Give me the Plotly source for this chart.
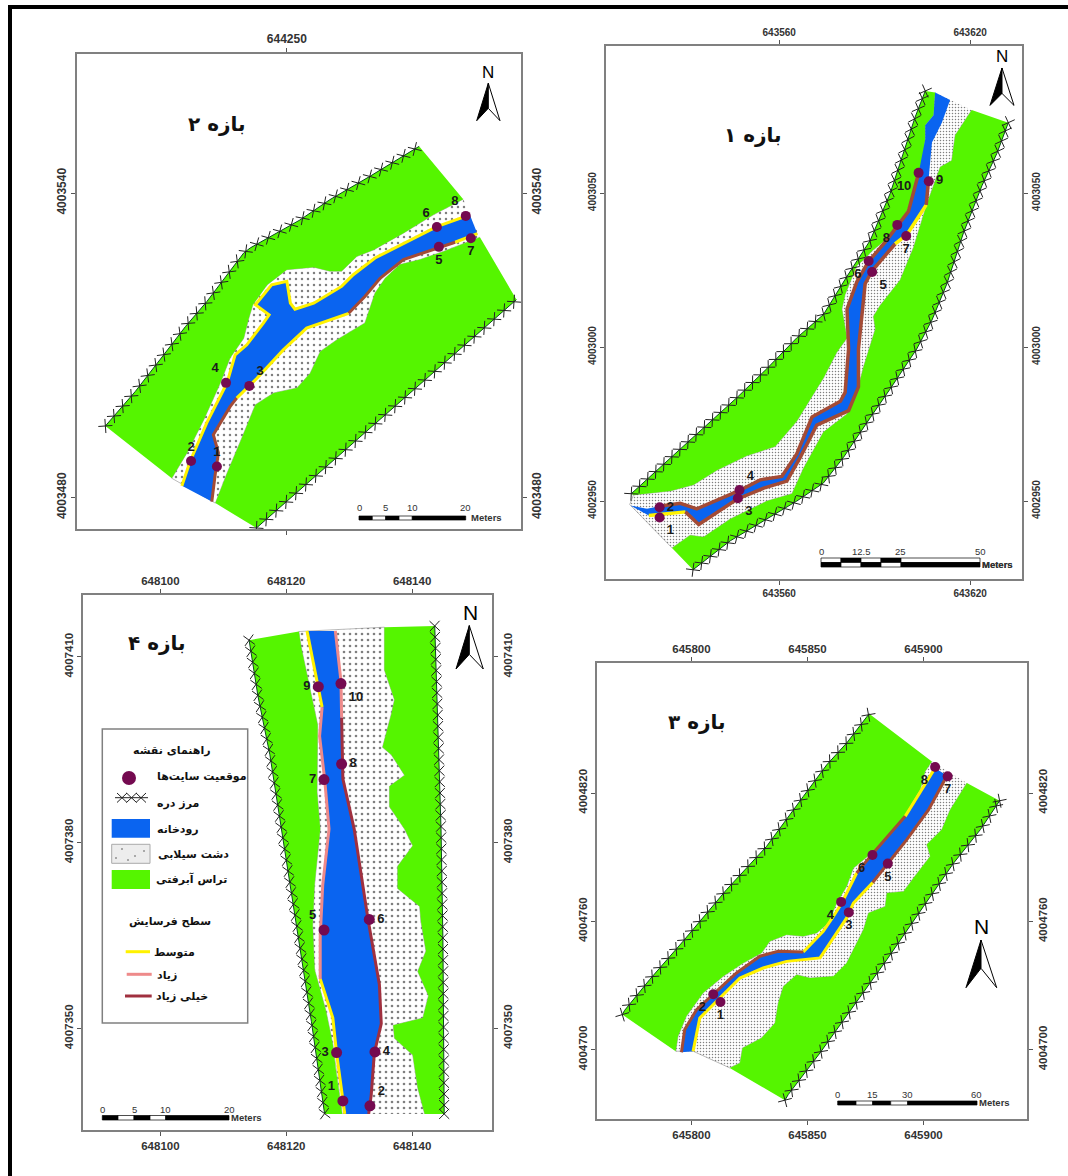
import numpy as np
import plotly.graph_objects as go

W, H = 1068, 1176

# ---------------- DATA: offsets in metres from each reach's reference grid tick ----------------
# Reach 2
P2_E0, P2_N0 = 644250, 4003540
P2_X_TICKS = [644250]
P2_Y_TICKS = [4003540, 4003480]
P2_VALLEY_NW = [(-35.8,-45.9),(-29.9,-39.1),(-24.3,-31.9),(-20.0,-26.3),(-15.8,-21.4),(-11.8,-16.1),(-8.5,-11.8),(-7.2,-10.8),(2.6,-5.3),(8.5,-1.3),(16.4,3.3),(26.1,9.2)]
P2_VALLEY_SE = [(-6.0,-66.0),(45.3,-21.0)]
P2_PLAIN_N = [(34.8,-1.2),(28.9,-4.3),(23.0,-7.9),(17.1,-11.2),(13.8,-12.5),(10.8,-15.4),(8.5,-15.4),(5.3,-14.6),(0,-15.1),(-3.9,-18.1),(-6.7,-22.0),(-7.6,-25.0),(-8.5,-28.6),(-11.2,-32.5),(-13.1,-37.4),(-16.4,-44.7),(-19.7,-51.2),(-22.7,-56.2)]
P2_PLAIN_S = [(-14.1,-61.1),(-11.8,-55.2),(-8.9,-48.3),(-6.2,-41.7),(-2.6,-39.4),(2.0,-38.4),(4.6,-35.5),(6.6,-31.2),(9.9,-28.9),(15.4,-25.6),(17.4,-19.7),(19.4,-16.8),(22.3,-14.1),(26.3,-13.1),(30.9,-11.5),(38.1,-8.7)]
P2_BANK_L = [(-20.7,-57.7),(-19.1,-52.9),(-15.8,-45.3),(-11.8,-37.4),(-10.2,-31.9),(-7.9,-29.9),(-4.6,-25.6),(-3.5,-24.0),(-6.2,-22.0),(-3.0,-18.1),(0,-17.4),(0.7,-21.7),(1.6,-22.9),(5.3,-21.7),(10.8,-18.4),(13.1,-16.1),(17.4,-12.8),(23.0,-9.9),(29.6,-6.6),(36.1,-4.3)]
P2_BANK_R = [(37.6,-8.0),(33.2,-9.7),(29.9,-10.8),(23.0,-13.1),(18.4,-16.8),(15.4,-20.4),(12.2,-23.7),(3.9,-26.6),(-0.7,-30.9),(-5.9,-36.5),(-9.9,-40.4),(-11.2,-42.1),(-14.5,-47.6),(-13.5,-51.2),(-14.1,-55.2),(-14.8,-60.8)]
P2_SITES = [(-13.8,-53.9),(-18.9,-52.8),(-7.4,-38.0),(-12.0,-37.4),(30.0,-10.6),(29.6,-6.7),(36.3,-8.9),(35.3,-4.5)]
P2_SITE_NAMES = ["1","2","3","4","5","6","7","8"]

# Reach 1
P1_E0, P1_N0 = 643560, 4003050
P1_X_TICKS = [643560, 643620]
P1_Y_TICKS = [4003050, 4003000, 4002950]
P1_VALLEY_NW = [(-46.5,-97.6),(-39.5,-91.1),(-29.0,-81.1),(-13.3,-66.4),(-3.9,-57.0),(5.5,-47.0),(13.9,-39.4),(21.3,-27.0),(28.6,-15.3),(34.9,0),(39.1,12.9),(42.7,24.7),(45.9,33.2)]
P1_VALLEY_SE = [(-27.1,-122.3),(-15.4,-112.9),(-3.9,-105.8),(5.5,-100.0),(13.9,-94.1),(20.2,-85.8),(28.6,-72.9),(34.9,-63.5),(43.2,-50.6),(48.0,-41.2),(52.7,-29.4),(57.9,-12.9),(63.7,2.4),(68.4,12.9),(72.0,22.9)]
P1_PLAIN_N = [(49.0,32.7),(48.5,25.3),(45.9,22.1),(45.9,17.6),(44.8,9.4),(43.8,6.5),(42.2,0),(40.1,-5.9),(37.0,-10.6),(33.3,-15.3),(29.1,-18.8),(27.0,-21.2),(24.4,-23.5),(20.7,-32.9),(19.7,-37.6),(21.3,-47.0),(18.1,-51.7),(13.9,-60.0),(9.7,-67.0),(5.5,-74.1),(-1.3,-82.3),(-10.2,-85.3),(-19.6,-90.0),(-26.9,-94.7),(-34.2,-96.7),(-45.8,-98.0)]
P1_PLAIN_S = [(-47.0,-101.1),(-33.7,-115.2),(-28.0,-111.1),(-23.8,-111.7),(-15.4,-105.8),(-3.9,-100.0),(4.0,-97.6),(7.6,-89.4),(13.9,-77.6),(21.3,-71.7),(24.4,-64.7),(26.5,-56.4),(30.2,-44.1),(29.6,-40.0),(31.7,-36.5),(38.0,-28.2),(42.2,-17.6),(46.4,-3.5),(50.6,8.5),(54.2,10.6),(55.3,18.8),(60.5,27.0)]
P1_BANK_L = [(-46.8,-101.4),(-41.6,-102.5),(-37.6,-101.7),(-31.1,-100.7),(-25.9,-102.5),(-12.8,-96.7),(-6.0,-93.1),(0.8,-92.0),(5.5,-84.7),(10.3,-72.7),(19.2,-67.6),(20.7,-64.7),(21.8,-50.6),(21.3,-37.6),(24.4,-28.8),(28.1,-22.1),(33.3,-15.9),(37.0,-10.6),(40.6,-5.9),(43.8,6.5),(45.9,17.6),(45.9,22.1),(48.5,25.3),(49.0,32.7)]
P1_BANK_R = [(53.7,30.3),(51.1,22.9),(48.0,16.5),(46.9,4.1),(46.2,-3.8),(40.1,-13.5),(36.4,-16.5),(29.1,-25.3),(27.0,-29.4),(26.0,-40.0),(24.9,-50.6),(24.9,-62.9),(21.8,-70.6),(11.8,-75.3),(6.6,-85.8),(2.4,-93.5),(-4.9,-95.8),(-13.3,-99.4),(-25.3,-107.6),(-29.5,-103.5),(-41.0,-104.7)]
P1_SITES = [(-37.6,-105.3),(-37.6,-102.0),(-13.0,-99.1),(-12.5,-96.4),(29.2,-25.6),(28.1,-22.0),(39.9,-13.9),(37.1,-10.3),(47.0,3.9),(43.8,6.6)]
P1_SITE_NAMES = ["1","2","3","4","5","6","7","8","9","10"]

# Reach 4
P4_E0, P4_N0 = 648120, 4007380
P4_X_TICKS = [648100, 648120, 648140]
P4_Y_TICKS = [4007410, 4007380, 4007350]
P4_VALLEY_W = [(-5.9,32.7),(-4.5,23.7),(-2.6,14.2),(-0.5,0.4),(1.6,-12.7),(4.0,-28.9),(6.1,-43.8)]
P4_VALLEY_E = [(23.6,35.0),(24.1,20.2),(24.6,2.2),(24.9,-15.7),(25.1,-43.8)]
P4_PLAIN_W = [(8.9,-43.8),(7.9,-36.7),(7.4,-32.5),(6.3,-27.1),(4.5,-20.5),(4.2,-13.3),(4.5,-6.8),(5.4,2.2),(4.9,8.2),(5.0,19.0),(4.0,23.7),(2.4,31.5),(2.0,34.1)]
P4_PLAIN_E = [(22.0,-43.8),(20.9,-39.6),(20.1,-34.3),(17.2,-31.6),(17.0,-29.5),(21.7,-28.3),(22.6,-24.7),(20.9,-20.8),(22.2,-17.5),(21.4,-12.7),(21.2,-10.3),(17.7,-7.4),(17.7,-3.8),(20.1,-0.5),(18.8,2.2),(16.4,5.8),(16.4,9.1),(18.8,10.9),(16.7,14.2),(15.3,15.4),(16.7,20.8),(17.2,23.1),(15.6,27.9),(15.6,34.8)]
P4_BANK_L = [(3.3,34.2),(5.0,25.5),(5.7,21.9),(5.3,17.2),(6.1,10.3),(6.8,2.2),(5.8,-6.8),(5.4,-15.1),(5.4,-22.0),(7.4,-28.3),(8.0,-34.0),(9.3,-43.8)]
P4_BANK_R = [(13.1,-43.8),(13.5,-40.8),(14.0,-34.0),(15.1,-29.2),(14.8,-22.9),(13.0,-12.4),(10.8,2.2),(9.0,10.3),(8.8,20.2),(8.7,26.1),(7.8,34.2)]
P4_SITES = [(9.0,-41.7),(13.3,-42.5),(8.0,-33.9),(14.1,-33.8),(6.0,-14.1),(13.2,-12.4),(6.0,10.2),(8.8,12.7),(5.1,25.2),(8.7,25.7)]
P4_SITE_NAMES = ["1","2","3","4","5","6","7","8","9","10"]

# Reach 3
P3_E0, P3_N0 = 645800, 4004820
P3_X_TICKS = [645800, 645850, 645900]
P3_Y_TICKS = [4004820, 4004760, 4004700]
P3_VALLEY_NW = [(-29.8,-103.6),(-28.8,-101.6),(-18.0,-87.2),(-3.6,-69.3),(15.1,-45.2),(32.4,-24.9),(48.2,-1.6),(58.3,13.2),(66.9,23.4),(74.8,34.3),(76.6,37.1)]
P3_VALLEY_SE = [(40.3,-143.6),(41.7,-141.0),(55.4,-121.5),(69.8,-99.7),(84.2,-77.9),(100.0,-53.0),(113.0,-32.7),(124.5,-17.1),(132.8,-3.6)]
P3_PLAIN_N = [(103.6,14.8),(100.7,10.1),(98.6,1.6),(92.1,-10.1),(85.6,-19.5),(77.7,-28.0),(69.8,-35.1),(66.9,-43.6),(62.6,-51.4),(59.0,-60.8),(54.0,-65.4),(48.2,-67.0),(41.0,-66.2),(33.8,-69.3),(30.2,-74.8),(22.3,-79.5),(13.7,-85.7),(5.0,-93.5),(-2.2,-104.4),(-5.8,-113.7),(-6.8,-120.7)]
P3_PLAIN_MOUTH = [(0.7,-120.7)]
P3_PLAIN_S = [(16.5,-128.5),(20.9,-126.2),(22.0,-119.2),(30.2,-114.5),(36.0,-107.5),(37.4,-98.2),(39.6,-90.4),(45.3,-84.9),(51.1,-86.5),(61.2,-85.7),(66.9,-79.5),(70.5,-71.7),(74.1,-63.9),(76.3,-56.1),(83.5,-53.0),(84.2,-46.7),(91.4,-46.0),(95.7,-39.7),(102.9,-29.6),(101.4,-24.1),(107.9,-17.1),(111.5,-7.8),(118.7,4.7)]
P3_BANK_L = [(-4.3,-121.2),(-2.9,-110.6),(2.2,-101.3),(9.4,-94.3),(19.4,-84.1),(29.5,-76.3),(37.4,-74.0),(48.2,-74.3),(56.8,-64.7),(61.2,-57.6),(64.8,-51.4),(71.2,-37.4),(77.7,-28.8),(92.1,-10.9),(105.0,11.7)]
P3_BANK_R = [(110.1,8.1),(102.2,-7.8),(92.8,-21.8),(84.2,-33.5),(78.1,-41.8),(69.8,-51.4),(66.9,-58.4),(55.4,-77.1),(41.0,-78.7),(30.9,-81.8),(20.9,-86.5),(10.8,-97.4),(3.6,-105.2),(0.7,-120.7)]
P3_SITES = [(12.5,-97.7),(9.4,-94.1),(67.8,-55.8),(64.5,-50.9),(84.6,-33.0),(78.0,-29.0),(110.4,7.8),(105.0,12.2)]
P3_SITE_NAMES = ["1","2","3","4","5","6","7","8"]

LEGEND_ITEMS = ["موقعیت سایت‌ها", "مرز دره", "رودخانه", "دشت سیلابی", "تراس آبرفتی"]
EROSION_LEVELS = ["متوسط", "زیاد", "خیلی زیاد"]

# ---------------- STYLE ----------------
GREEN = "#55F500"; BLUE = "#0A64F0"; YELLOW = "#FFF200"; BROWN = "#A34B36"; PINK = "#EE8A8A"; DARK = "#A0303F"
SITE = "#740A50"; FRAME = "#808080"
SANS = "Liberation Sans"; AR = "DejaVu Sans"

fig = go.Figure()
shapes, notes = [], []
px_x = lambda x: x / W
px_y = lambda y: 1 - y / H

def text(x, y, s, size=11, bold=True, color="#111", font=AR):
    notes.append(dict(x=px_x(x), y=px_y(y), xref="paper", yref="paper", text=s, showarrow=False,
                      xanchor="center", yanchor="middle",
                      font=dict(size=size, color=color, family=font, weight="bold" if bold else "normal")))

def rect(x0, y0, x1, y1, fill, line=None, lw=1, layer="above"):
    shapes.append(dict(type="rect", xref="paper", yref="paper", x0=px_x(x0), x1=px_x(x1), y0=px_y(y0), y1=px_y(y1),
                       fillcolor=fill, line=dict(color=line or fill, width=lw if line else 0), layer=layer))

def seg(x0, y0, x1, y1, color, lw):
    shapes.append(dict(type="line", xref="paper", yref="paper", x0=px_x(x0), x1=px_x(x1), y0=px_y(y0), y1=px_y(y1),
                       line=dict(color=color, width=lw), layer="above"))

def path(points, fill, line="black", lw=1):
    d = "M " + " L ".join(f"{px_x(a):.5f},{px_y(b):.5f}" for a, b in points) + " Z"
    shapes.append(dict(type="path", xref="paper", yref="paper", path=d, fillcolor=fill, line=dict(color=line, width=lw), layer="above"))

def along(pts, step, sx, sy):
    """Positions and screen bearing of the repeating cross glyph of the valley-boundary line symbol."""
    a = np.array(pts, float)
    dv = np.diff(a, axis=0)
    d = np.r_[0, np.cumsum(np.hypot(dv[:, 0], dv[:, 1]))]
    s = np.arange(0, d[-1] + step * 0.5, step)
    idx = np.clip(np.searchsorted(d, s, side="right") - 1, 0, len(dv) - 1)
    ang = np.degrees(np.arctan2(-dv[idx, 1] * sy, dv[idx, 0] * sx))
    return np.interp(s, d, a[:, 0]), np.interp(s, d, a[:, 1]), ang

def panel(i, frame, e0, n0, xr, yr, xticks, yticks, nw, se, plain, terr, left, right, segs, sites, names, pos, step, dot,
          tick_size=11, txt_size=13, ms=10, bank_w=3):
    ax, ay = ("x" if i == 0 else f"x{2*i+1}"), ("y" if i == 0 else f"y{2*i+1}")
    bx, by = f"x{2*i+2}", f"y{2*i+2}"
    x0, x1, y0, y1 = frame
    lay = dict()
    def key(a): return a.replace("x", "xaxis").replace("y", "yaxis")
    dx, dy = [x0 / W, x1 / W], [1 - y1 / H, 1 - y0 / H]
    common = dict(showgrid=False, zeroline=False, showline=True, linecolor=FRAME, linewidth=1.5, ticks="outside",
                  ticklen=4, tickwidth=1, tickcolor="#555", tickfont=dict(family=SANS, size=tick_size, color="#333", weight="bold"))
    tx = dict(tickvals=xticks, ticktext=[str(v) for v in xticks], range=[e0 + xr[0], e0 + xr[1]], domain=dx)
    ty = dict(tickvals=yticks, ticktext=[str(v) for v in yticks], range=[n0 + yr[0], n0 + yr[1]], domain=dy, tickangle=-90)
    lay[key(ax)] = dict(anchor=ay, side="bottom", **tx, **common)
    lay[key(ay)] = dict(anchor=ax, side="left", **ty, **common)
    lay[key(bx)] = dict(anchor=by, side="top", overlaying=ax, **tx, **common)
    lay[key(by)] = dict(anchor=bx, side="right", overlaying=ay, **ty, **common)
    fig.update_layout(**lay)
    sx, sy = (x1 - x0) / (xr[1] - xr[0]), (y1 - y0) / (yr[1] - yr[0])
    xy = dict(xaxis=ax, yaxis=ay, hoverinfo="skip")
    def E(p): return [e0 + q[0] for q in p]
    def N(p): return [n0 + q[1] for q in p]
    fig.add_trace(go.Scatter(x=[None], y=[None], xaxis=bx, yaxis=by, mode="markers"))
    # floodplain, terraces, river
    fig.add_trace(go.Scatter(x=E(plain), y=N(plain), mode="lines", line=dict(width=0.5, color="#777"), fill="toself", fillcolor="white",
                             fillpattern=dict(shape=".", size=dot[0], solidity=dot[1], fgcolor="black", bgcolor="white"), **xy))
    for t in terr:
        fig.add_trace(go.Scatter(x=E(t), y=N(t), mode="lines", line=dict(width=0), fill="toself", fillcolor=GREEN, **xy))
    river = left + right
    fig.add_trace(go.Scatter(x=E(river), y=N(river), mode="lines", line=dict(width=0), fill="toself", fillcolor=BLUE, **xy))
    # erosion lines
    for pts, col in segs:
        fig.add_trace(go.Scatter(x=E(pts), y=N(pts), mode="lines", line=dict(color=col, width=bank_w), **xy))
    # valley boundary
    for b in (nw, se):
        fig.add_trace(go.Scatter(x=E(b), y=N(b), mode="lines", line=dict(color="#0A4A1E", width=1), **xy))
        ex, nx, ang = along(b, step, sx, sy)
        fig.add_trace(go.Scatter(x=e0 + ex, y=n0 + nx, mode="markers",
                                 marker=dict(symbol="x-thin", size=10, angle=ang, line=dict(color="#222", width=1)), **xy))
    # sites
    fig.add_trace(go.Scatter(x=E(sites), y=N(sites), mode="markers+text", text=names, textposition=pos,
                             marker=dict(size=ms, color=SITE), textfont=dict(family=SANS, size=txt_size, color="#1a1a1a", weight="bold"), **xy))

def arrow(nx, ny, top, l, r, notch, size=17):
    text(nx, ny, "N", size=size, bold=False, font=SANS, color="black")
    path([top, l, notch], "black")
    path([top, r, notch], "white")

def bar(parts, y0, y1, labels, ly, meters):
    for a, b, c in parts:
        rect(a, y0, b, y1, c, line="black", lw=0.7)
    for x, s in labels:
        text(x, ly, s, size=9.5, bold=False, font=SANS, color="#333")
    text(meters[0], meters[1], "Meters", size=9.5, font=SANS, color="#333")

# Reach 2
panel(0, (77, 521, 54, 529), P2_E0, P2_N0, (-41.4, 46.2), (-66.2, 27.4), P2_X_TICKS, P2_Y_TICKS,
      P2_VALLEY_NW, P2_VALLEY_SE, P2_PLAIN_N + P2_PLAIN_S,
      [P2_VALLEY_NW + P2_PLAIN_N, P2_PLAIN_S + P2_VALLEY_SE[::-1]], P2_BANK_L, P2_BANK_R,
      [(P2_BANK_L, YELLOW), (P2_BANK_R[:2], YELLOW), (P2_BANK_R[6:11], YELLOW), (P2_BANK_R[1:7], BROWN), (P2_BANK_R[10:], BROWN)],
      P2_SITES, P2_SITE_NAMES,
      ["top center", "top center", "top right", "top left", "bottom center", "top left", "bottom center", "top left"], 2.6, (6, 0.13), tick_size=12)
# Reach 1
panel(1, (606, 1022, 46, 579), P1_E0, P1_N0, (-54.45, 76.3), (-125.3, 47.8), P1_X_TICKS, P1_Y_TICKS,
      P1_VALLEY_NW, P1_VALLEY_SE, P1_PLAIN_N + P1_PLAIN_S,
      [P1_VALLEY_NW + P1_PLAIN_N, P1_PLAIN_S[1:] + P1_VALLEY_SE[::-1]], P1_BANK_L, P1_BANK_R,
      [(P1_BANK_R[4:7], YELLOW), (P1_BANK_R[19:], YELLOW), (P1_BANK_L[2:20], BROWN), (P1_BANK_R[3:5], BROWN), (P1_BANK_R[6:20], BROWN)],
      P1_SITES, P1_SITE_NAMES,
      ["bottom right", "middle right", "bottom right", "top right", "bottom right", "bottom left", "bottom center", "bottom left", "middle right", "bottom left"],
      3.5, (3, 0.2), tick_size=10, bank_w=3.5)
# Reach 4
panel(2, (83, 492, 595, 1130), P4_E0, P4_N0, (-32.3, 32.7), (-46.4, 40.0), P4_X_TICKS, P4_Y_TICKS,
      P4_VALLEY_W, P4_VALLEY_E, P4_PLAIN_W + P4_PLAIN_E[::-1],
      [P4_VALLEY_W + P4_PLAIN_W, P4_VALLEY_E + P4_PLAIN_E], P4_BANK_L, P4_BANK_R,
      [(P4_BANK_L[:3], YELLOW), (P4_BANK_L[8:], YELLOW), (P4_BANK_L[2:9], PINK), (P4_BANK_R[:9], DARK), (P4_BANK_R[8:], PINK)],
      P4_SITES, P4_SITE_NAMES,
      ["top left", "top right", "middle left", "middle right", "top left", "middle right", "middle left", "middle right", "middle left", "bottom right"],
      1.8, (6, 0.15), tick_size=11.5, ms=11)
# Reach 3
panel(3, (597, 1027, 663, 1119), P3_E0, P3_N0, (-40.7, 144.6), (-152.4, 60.8), P3_X_TICKS, P3_Y_TICKS,
      P3_VALLEY_NW, P3_VALLEY_SE, P3_PLAIN_N + P3_PLAIN_MOUTH + P3_PLAIN_S,
      [P3_VALLEY_NW + P3_PLAIN_N, P3_PLAIN_S + P3_VALLEY_SE[::-1]], P3_BANK_L, P3_BANK_R,
      [(P3_BANK_L[7:12], YELLOW), (P3_BANK_L[13:], YELLOW), (P3_BANK_R[4:], YELLOW), (P3_BANK_L[:8], BROWN), (P3_BANK_L[11:14], BROWN), (P3_BANK_R[:5], BROWN)],
      P3_SITES, P3_SITE_NAMES,
      ["bottom center", "bottom left", "bottom center", "bottom left", "bottom center", "bottom left", "bottom center", "bottom left"],
      5.5, (3, 0.2), tick_size=11.5)

# titles
text(216.7, 124, "بازه ۲", size=20)
text(752.7, 135, "بازه ۱", size=20)
text(157, 643, "بازه ۴", size=20)
text(696.7, 721.7, "بازه ۳", size=20)

# north arrows
arrow(487.7, 73, (488.3, 83.3), (476.7, 120.7), (500, 120.7), (488.3, 108.3))
arrow(1002, 57, (1002, 68), (990, 105.4), (1014, 105.4), (1002, 93.4))
arrow(470, 612.6, (469.3, 625.6), (456, 669), (483.3, 669), (469.3, 654.4), size=21)
arrow(981, 926.7, (981, 940), (966, 987.7), (996.7, 987.7), (981, 968.3), size=21)

# scale bars
bar([(359, 372.3, "black"), (372.3, 385.7, "white"), (385.7, 399, "black"), (399, 412.3, "white"), (412.3, 465.7, "black")], 516, 520,
    [(359, "0"), (385.7, "5"), (412.3, "10"), (465.7, "20")], 508, (486, 517))
bar([(821, 841, "white"), (841, 861, "black"), (861, 881, "white"), (881, 901, "black"), (901, 980, "white")], 558, 562.5, [], 551, (997.7, 564))
bar([(821, 841, "black"), (841, 861, "white"), (861, 881, "black"), (881, 901, "white"), (901, 980, "black")], 562.5, 567,
    [(821, "0"), (861.7, "12.5"), (900.7, "25"), (980, "50")], 551, (997.7, 564))
bar([(837.7, 856, "black"), (856, 872.7, "white"), (872.7, 890.7, "black"), (890.7, 907.7, "white"), (907.7, 977, "black")], 1101, 1105,
    [(837.7, "0"), (872.7, "15"), (907.7, "30"), (976.7, "60")], 1094, (994, 1102.7))
bar([(102.3, 118, "black"), (118, 134, "white"), (134, 150, "black"), (150, 165.7, "white"), (165.7, 229, "black")], 1115.5, 1120,
    [(102.3, "0"), (134, "5"), (165.7, "10"), (229, "20")], 1109, (246.7, 1117))

# cropped label under reach 2
rect(255, 537, 320, 560, "white")

# legend box
rect(102.3, 729, 247.7, 1023, "white", line=FRAME, lw=1.5)
text(172.3, 750, "راهنمای نقشه", size=11)
shapes.append(dict(type="circle", xref="paper", yref="paper", x0=px_x(122), x1=px_x(136), y0=px_y(785), y1=px_y(771),
                   fillcolor=SITE, line=dict(width=0), layer="above"))
text(201.7, 776.7, LEGEND_ITEMS[0], size=11)
seg(115, 797.7, 148, 797.7, "#222", 1)
for c in (122, 131.5, 141):
    seg(c - 5, 793, c + 5, 802.5, "#222", 1)
    seg(c - 5, 802.5, c + 5, 793, "#222", 1)
text(178.3, 803.3, LEGEND_ITEMS[1], size=11)
rect(111.7, 819, 150, 837.7, BLUE)
text(178.3, 829, LEGEND_ITEMS[2], size=11)
rect(111.7, 844.3, 150, 863.3, "#EDEDED", line="#AAA", lw=1)
for cx, cy in ((122, 849), (135, 856), (144, 851), (116, 858), (128, 860)):
    shapes.append(dict(type="circle", xref="paper", yref="paper", x0=px_x(cx - .7), x1=px_x(cx + .7), y0=px_y(cy + .7), y1=px_y(cy - .7),
                       fillcolor="#333", line=dict(width=0), layer="above"))
text(193.3, 854, LEGEND_ITEMS[3], size=11)
rect(111.7, 870, 150, 889, GREEN)
text(191.7, 879.3, LEGEND_ITEMS[4], size=11)
text(170, 921.7, "سطح فرسایش", size=11)
seg(125.7, 951.7, 150, 951.7, YELLOW, 3)
text(174.3, 952.3, EROSION_LEVELS[0], size=11)
seg(126.7, 974.3, 151.7, 974.3, PINK, 3)
text(166.7, 975, EROSION_LEVELS[1], size=11)
seg(125, 996, 151.7, 996, DARK, 3)
text(181.7, 996, EROSION_LEVELS[2], size=11)

# outer border: top and left rules only
rect(8, 5, 1068, 9, "black")
rect(8, 5, 12, 1176, "black")

fig.update_layout(width=W, height=H, autosize=False, margin=dict(l=0, r=0, t=0, b=0), showlegend=False,
                  paper_bgcolor="white", plot_bgcolor="white", shapes=shapes, annotations=notes)
fig.write_html("out.html", post_script="document.body.style.margin='0';", config=dict(displayModeBar=False))
